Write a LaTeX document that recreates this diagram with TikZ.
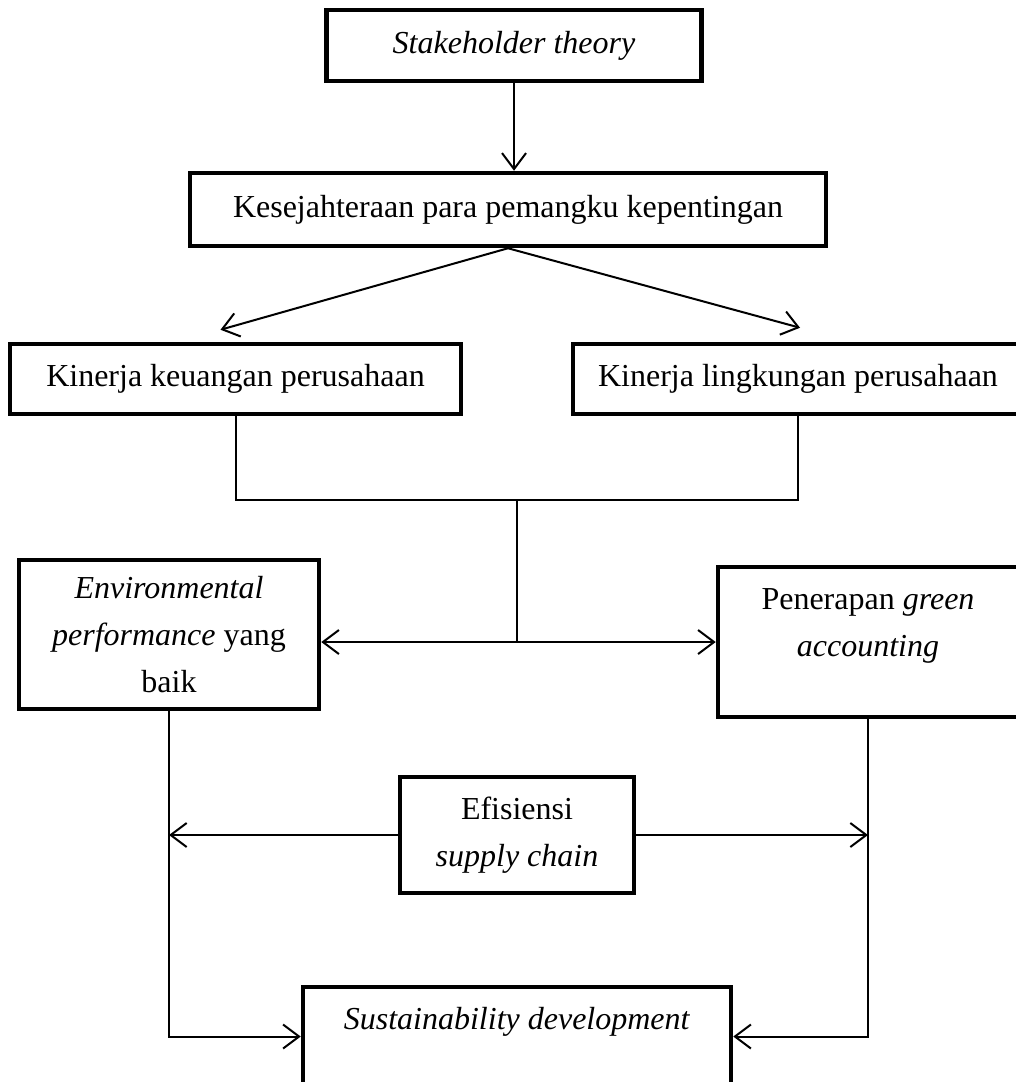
\documentclass[tikz,border=0pt]{standalone}
\usepackage{fontspec}
\setmainfont{Liberation Serif}
\usetikzlibrary{arrows.meta, positioning, calc}

\begin{document}
\begin{tikzpicture}[x=1pt, y=-1pt, font=\fontsize{32}{47}\selectfont]
\tikzstyle{block} = [rectangle, draw, line width=4.5pt, align=center, inner sep=0pt]
\tikzstyle{link} = [line width=2pt]
\tikzstyle{arrow} = [link, -{Straight Barb[length=16pt, width=24pt]}]

\useasboundingbox (0,0) rectangle (1016,1082);

\node (theory) [block, minimum width=375pt, minimum height=71pt] at (514,45.5) {\textit{Stakeholder theory}};
\node (welfare) [block, minimum width=636pt, minimum height=73pt] at (508,209.5) {Kesejahteraan para pemangku kepentingan};
\node (keuangan) [block, minimum width=451pt, minimum height=70pt] at (235.5,379) {Kinerja keuangan perusahaan};
\node (lingkungan) [block, minimum width=450pt, minimum height=70pt] at (798,379) {Kinerja lingkungan perusahaan};
\node (env) [block, minimum width=300pt, minimum height=149pt] at (169,634.5) {\textit{Environmental}\\\textit{performance} yang\\baik};
\node (green) [block, minimum width=300pt, minimum height=150pt,
  label={[align=center, yshift=16pt]center:Penerapan \textit{green}\\\textit{accounting}}] at (868,642) {};
\node (supply) [block, minimum width=234pt, minimum height=116pt] at (517,835) {Efisiensi\\\textit{supply chain}};
\node (sustain) [block, minimum width=428pt, minimum height=99pt,
  label={[yshift=14.5pt]center:\textit{Sustainability development}}] at (517,1036.5) {};

\coordinate (merge) at (517,500);
\coordinate (fork) at (517,642);

\draw [arrow] (theory.south) -- (theory.south |- welfare.north);
\draw [arrow] (welfare.south) -- ([xshift=-15pt, yshift=12pt]keuangan.north);
\draw [arrow] (welfare.south) -- ([xshift=2pt, yshift=14pt]lingkungan.north);

\draw [link] (keuangan.south) |- (merge) -| (lingkungan.south);
\draw [link] (merge) -- (fork);
\draw [arrow] (fork) -- (fork -| env.east);
\draw [arrow] (fork) -- (fork -| green.west);

\draw [arrow] (supply.west) -- (supply.west -| env.south);
\draw [arrow] (supply.east) -- (supply.east -| green.south);
\draw [arrow] (env.south) |- (sustain.west);
\draw [arrow] (green.south) |- (sustain.east);

\end{tikzpicture}
\end{document}
